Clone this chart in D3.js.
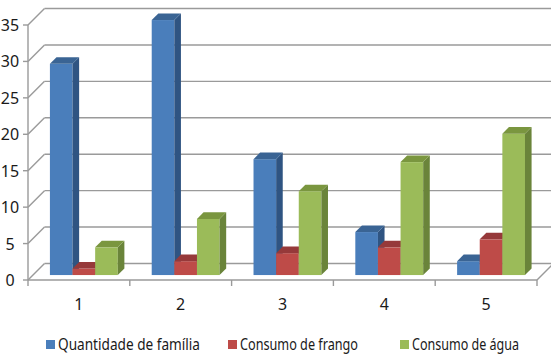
<!DOCTYPE html>
<html>
<head>
<meta charset="utf-8">
<script src="https://cdn.jsdelivr.net/npm/d3@7"></script>
<style>
  html, body { margin: 0; padding: 0; background: #fff; }
  svg { display: block; }
</style>
</head>
<body>
<svg id="chart" width="551" height="355"></svg>
<script>
// ---- data ----
const categories = ["1", "2", "3", "4", "5"];
const seriesNames = ["Quantidade de família", "Consumo de frango", "Consumo de água"];
const quantidadeFamilia = [29, 35, 15.9, 5.9, 1.9];
const consumoFrango = [0.9, 1.9, 3, 3.8, 4.9];
const consumoAgua = [3.8, 7.7, 11.5, 15.5, 19.4];
const yTicks = [0, 5, 10, 15, 20, 25, 30, 35];

const seriesValues = [quantidadeFamilia, consumoFrango, consumoAgua];
const colors = [
  { front: "#4A7EBB", side: "#2F5482", top: "#3A6494" },
  { front: "#BE4B48", side: "#8A3533", top: "#96393A" },
  { front: "#9BBB59", side: "#6A843A", top: "#7A963F" }
];

const svg = d3.select("#chart");
const FONT = "Noto Sans, Open Sans, sans-serif";

// ---- scales (front plane) ----
const x = d3.scaleBand().domain(categories).range([28, 537]).padding(0);
const xs = d3.scaleBand().domain(d3.range(3)).range([x.bandwidth() / 6, x.bandwidth() * 5 / 6]).padding(0);
const y = d3.scaleLinear().domain([0, 35]).range([280, 25]);

// oblique depth
const D = 16.5;                 // full depth offset (px)
const t0 = 0.3, t1 = 0.7;       // bar front / back depth fractions
const off = t => [t * D, -t * D];

const gridColor = "#9a9a9a";
const g = svg.append("g");

// back wall gridlines + side wall diagonals
yTicks.forEach(v => {
  const yy = y(v);
  g.append("line")
    .attr("x1", x.range()[0] + D).attr("y1", yy - D)
    .attr("x2", x.range()[1] + D).attr("y2", yy - D)
    .attr("stroke", gridColor).attr("stroke-width", 1.4);
  g.append("line")
    .attr("x1", x.range()[0]).attr("y1", yy)
    .attr("x2", x.range()[0] + D).attr("y2", yy - D)
    .attr("stroke", gridColor).attr("stroke-width", 1.4);
  g.append("line")
    .attr("x1", x.range()[0] - 5).attr("y1", yy)
    .attr("x2", x.range()[0]).attr("y2", yy)
    .attr("stroke", gridColor).attr("stroke-width", 1.4);
  g.append("text")
    .attr("x", 10).attr("y", yy + 6)
    .attr("text-anchor", "middle")
    .attr("font-family", FONT)
    .attr("font-size", 16)
    .attr("fill", "#1a1a1a")
    .text(v);
});

// vertical front axis
g.append("line")
  .attr("x1", x.range()[0]).attr("y1", y(35))
  .attr("x2", x.range()[0]).attr("y2", y(0))
  .attr("stroke", gridColor).attr("stroke-width", 1.4);
// floor front edge
g.append("line")
  .attr("x1", x.range()[0]).attr("y1", y(0))
  .attr("x2", x.range()[1]).attr("y2", y(0))
  .attr("stroke", gridColor).attr("stroke-width", 1.4);
// floor right edge
g.append("line")
  .attr("x1", x.range()[1]).attr("y1", y(0))
  .attr("x2", x.range()[1] + D).attr("y2", y(0) - D)
  .attr("stroke", gridColor).attr("stroke-width", 1.4);

// x ticks at band boundaries
const bounds = categories.map(c => x(c)).concat([x.range()[1]]);
bounds.forEach(bx => {
  g.append("line")
    .attr("x1", bx).attr("y1", y(0))
    .attr("x2", bx).attr("y2", y(0) + 6)
    .attr("stroke", gridColor).attr("stroke-width", 1.4);
});

// category labels
categories.forEach(c => {
  g.append("text")
    .attr("x", x(c) + x.bandwidth() / 2).attr("y", 310)
    .attr("text-anchor", "middle")
    .attr("font-family", FONT)
    .attr("font-size", 16)
    .attr("fill", "#1a1a1a")
    .text(c);
});

// bars
const bars = svg.append("g");
categories.forEach((c, ci) => {
  seriesValues.forEach((vals, si) => {
    const v = vals[ci];
    const [ox, oy] = off(t0);
    const dd = (t1 - t0) * D;
    const x0 = x(c) + xs(si) + ox;
    const x1 = x0 + xs.bandwidth();
    const yb = y(0) + oy;
    const yt = y(v) + oy;
    const col = colors[si];
    bars.append("rect")
      .attr("x", x0).attr("y", yt)
      .attr("width", x1 - x0).attr("height", yb - yt)
      .attr("fill", col.front);
    bars.append("path")
      .attr("d", `M${x1},${yt}L${x1 + dd},${yt - dd}L${x1 + dd},${yb - dd}L${x1},${yb}Z`)
      .attr("fill", col.side);
    bars.append("path")
      .attr("d", `M${x0},${yt}L${x1},${yt}L${x1 + dd},${yt - dd}L${x0 + dd},${yt - dd}Z`)
      .attr("fill", col.top);
  });
});

// legend
const legendItems = [
  { sq: 46, tx: 58, w: 142 },
  { sq: 228, tx: 240, w: 118 },
  { sq: 400, tx: 412, w: 107 }
];
const lg = svg.append("g");
seriesNames.forEach((name, i) => {
  const it = legendItems[i];
  lg.append("rect")
    .attr("x", it.sq).attr("y", 340)
    .attr("width", 9).attr("height", 9)
    .attr("fill", colors[i].front);
  lg.append("text")
    .attr("x", it.tx).attr("y", 349.5)
    .attr("font-family", FONT)
    .attr("font-size", 15.5)
    .attr("fill", "#1a1a1a")
    .attr("textLength", it.w)
    .attr("lengthAdjust", "spacingAndGlyphs")
    .text(name);
});
</script>
</body>
</html>
